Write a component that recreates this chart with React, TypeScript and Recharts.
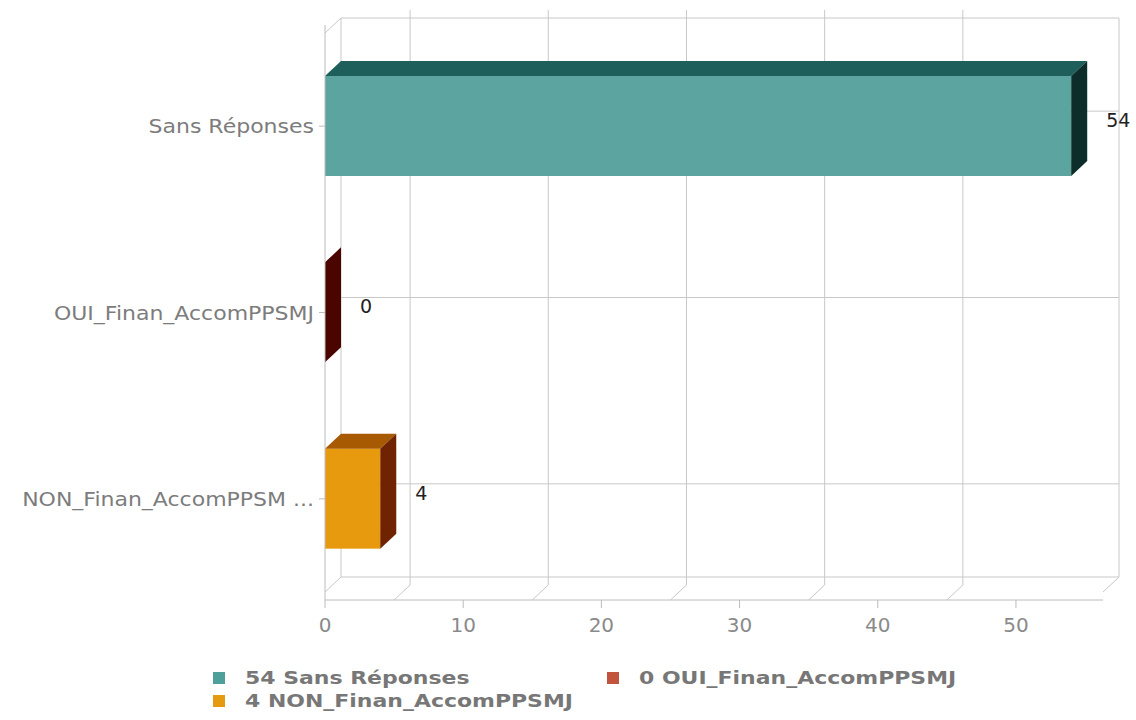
import { BarChart, Bar, XAxis, YAxis, ReferenceLine, ReferenceArea, LabelList } from 'recharts';

const categories = ['Sans Réponses', 'OUI_Finan_AccomPPSMJ', 'NON_Finan_AccomPPSMJ'];
const axisLabels = ['Sans Réponses', 'OUI_Finan_AccomPPSMJ', 'NON_Finan_AccomPPSM ...'];
const counts = [54, 0, 4];
const xTicks = [0, 10, 20, 30, 40, 50];
const wallGrid = [5, 15, 25, 35, 45];
const xMax = 56.3;

// front / top / side shades of each box
const faceColors = ['#5ba4a0', '#c0543c', '#e89a0e'];
const topColors = ['#1f5f5b', '#6a0f04', '#a85a02'];
const sideColors = ['#0c2d2a', '#4a0500', '#702300'];
const legendColors = ['#4f9f9b', '#c0543c', '#e59b10'];

// depth of the fake 3d
const DX = 16;
const DY = 15;
const GRID = '#c8c8c8';

const data = categories.map((name, i) => ({ name, count: counts[i] }));

const Box = (props: any) => {
  const { x, y, height, index } = props;
  const w = Math.max(props.width || 0, 0);
  const r = x + w;
  const b = y + height;
  return (
    <g>
      {w > 0 && <rect x={x} y={y} width={w} height={height} fill={faceColors[index]} />}
      {w > 0 && (
        <polygon
          points={`${x},${y} ${r},${y} ${r + DX},${y - DY} ${x + DX},${y - DY}`}
          fill={topColors[index]}
        />
      )}
      <polygon
        points={`${r},${y} ${r + DX},${y - DY} ${r + DX},${b - DY} ${r},${b}`}
        fill={sideColors[index]}
      />
    </g>
  );
};

const BackWall = (props: any) => {
  const { x, y, width, height } = props;
  const r = x + width;
  const b = y + height;
  return (
    <g fill="none" stroke={GRID} strokeWidth={1}>
      <path d={`M${x},${y} L${x + DX},${y - DY} L${r + DX},${y - DY} L${r + DX},${b - DY} L${r},${b}`} />
      <path d={`M${x},${b} L${x + DX},${b - DY} L${r + DX},${b - DY}`} />
      <path d={`M${x + DX},${y - DY} L${x + DX},${b - DY}`} />
    </g>
  );
};

const WallVertical = (p: any) => {
  const top = Math.min(p.y1, p.y2);
  const bot = Math.max(p.y1, p.y2);
  return (
    <path
      d={`M${p.x1},${bot} L${p.x1 + DX},${bot - DY} L${p.x1 + DX},${top - DY}`}
      stroke={GRID}
      fill="none"
    />
  );
};

const WallHorizontal = (p: any) => {
  const left = Math.min(p.x1, p.x2);
  const right = Math.max(p.x1, p.x2);
  return (
    <path d={`M${left + DX},${p.y1 - DY} L${right + DX},${p.y1 - DY}`} stroke={GRID} fill="none" />
  );
};

const CategoryTick = (p: any) => {
  const i = categories.indexOf(p.payload.value);
  return (
    <text
      transform={`translate(${p.x},${p.y}) scale(1.1,1)`}
      textAnchor="end"
      dy="0.355em"
      fontSize={20}
      fill="#7c7c7c"
    >
      {axisLabels[i] ?? p.payload.value}
    </text>
  );
};

const ValueLabel = (p: any) => {
  const vb = p.viewBox ?? p;
  const { x, y, width, height } = vb;
  return (
    <text
      x={x + Math.max(width, 0) + DX + 19}
      y={y + height / 2 - 6}
      dominantBaseline="central"
      fontSize={19}
      fill="#222"
    >
      {p.value}
    </text>
  );
};

export default function App() {
  return (
    <div
      style={{
        position: 'absolute',
        left: 0,
        top: 0,
        width: 1136,
        height: 720,
        background: '#fff',
        fontFamily: '"DejaVu Sans", Verdana, sans-serif',
      }}
    >
      <BarChart
        width={1136}
        height={720}
        data={data}
        layout="vertical"
        margin={{ top: 25, right: 33, bottom: 80, left: 0 }}
      >
        <XAxis
          type="number"
          domain={[0, xMax]}
          ticks={xTicks}
          height={40}
          tickSize={8}
          tickMargin={10}
          tick={{ fontSize: 20, fill: '#8a8a8a' }}
          axisLine={{ stroke: '#bcbcbc' }}
          tickLine={{ stroke: '#bcbcbc' }}
        />
        <YAxis
          type="category"
          dataKey="name"
          width={325}
          padding={{ top: 8, bottom: 8 }}
          tickSize={6}
          tickMargin={5}
          tick={CategoryTick}
          axisLine={{ stroke: '#bcbcbc' }}
          tickLine={{ stroke: '#bcbcbc' }}
        />
        <ReferenceArea x1={0} x2={xMax} shape={BackWall} zIndex={-50} ifOverflow="visible" />
        {wallGrid.map((v) => (
          <ReferenceLine key={v} x={v} shape={WallVertical} zIndex={-50} />
        ))}
        {categories.map((c) => (
          <ReferenceLine key={c} y={c} shape={WallHorizontal} zIndex={-50} />
        ))}
        <Bar dataKey="count" barSize={100} shape={Box} isAnimationActive={false}>
          <LabelList dataKey="count" content={ValueLabel} />
        </Bar>
      </BarChart>

      <div
        style={{
          position: 'absolute',
          left: 213,
          top: 666,
          width: 800,
          display: 'flex',
          flexWrap: 'wrap',
          fontWeight: 'bold',
          fontSize: 18,
          color: '#777',
        }}
      >
        {categories.map((c, i) => (
          <div key={c} style={{ width: 394, height: 23, display: 'flex', alignItems: 'center' }}>
            <span
              style={{ width: 12, height: 12, background: legendColors[i], marginRight: 20, flex: 'none' }}
            />
            <span
              style={{
                display: 'inline-block',
                whiteSpace: 'nowrap',
                transform: 'scaleX(1.22)',
                transformOrigin: 'left center',
              }}
            >
              {`${counts[i]} ${c}`}
            </span>
          </div>
        ))}
      </div>
    </div>
  );
}
